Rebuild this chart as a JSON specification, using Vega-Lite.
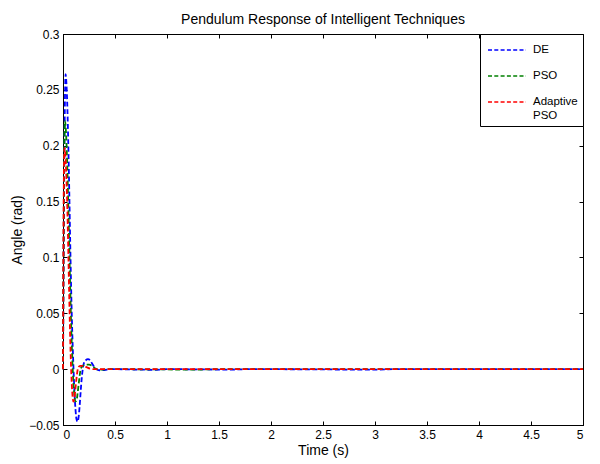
{
  "$schema": "https://vega.github.io/schema/vega-lite/v6.json",
  "autosize": {"type": "none"},
  "padding": {"left": 63, "top": 34, "right": 17, "bottom": 39},
  "width": 520,
  "height": 391,
  "background": "white",
  "title": {"text": "Pendulum Response of Intelligent Techniques", "font": "Liberation Sans", "fontSize": 14, "fontWeight": "normal", "color": "black", "offset": 1},
  "config": {
    "view": {"stroke": "black", "strokeWidth": 1},
    "axis": {"domainColor": "black", "tickColor": "black", "labelColor": "black", "titleColor": "black", "labelFont": "Liberation Sans", "titleFont": "Liberation Sans", "labelFontSize": 12, "titleFontSize": 14, "titleFontWeight": "normal", "grid": false, "tickSize": -4, "labelPadding": 8},
    "legend": {"labelFont": "Liberation Sans", "labelFontSize": 11.5, "labelColor": "black"}
  },
  "data": {"values": [
    {"t": 0, "angle": 0, "method": "DE"},
    {"t": 0.005, "angle": 0.08, "method": "DE"},
    {"t": 0.01, "angle": 0.15, "method": "DE"},
    {"t": 0.015, "angle": 0.21, "method": "DE"},
    {"t": 0.02, "angle": 0.25, "method": "DE"},
    {"t": 0.025, "angle": 0.264, "method": "DE"},
    {"t": 0.03, "angle": 0.26, "method": "DE"},
    {"t": 0.04, "angle": 0.24, "method": "DE"},
    {"t": 0.05, "angle": 0.205, "method": "DE"},
    {"t": 0.06, "angle": 0.16, "method": "DE"},
    {"t": 0.07, "angle": 0.11, "method": "DE"},
    {"t": 0.08, "angle": 0.065, "method": "DE"},
    {"t": 0.09, "angle": 0.03, "method": "DE"},
    {"t": 0.1, "angle": 0.003, "method": "DE"},
    {"t": 0.11, "angle": -0.02, "method": "DE"},
    {"t": 0.12, "angle": -0.036, "method": "DE"},
    {"t": 0.13, "angle": -0.045, "method": "DE"},
    {"t": 0.14, "angle": -0.047, "method": "DE"},
    {"t": 0.15, "angle": -0.043, "method": "DE"},
    {"t": 0.16, "angle": -0.033, "method": "DE"},
    {"t": 0.17, "angle": -0.02, "method": "DE"},
    {"t": 0.18, "angle": -0.008, "method": "DE"},
    {"t": 0.19, "angle": 0.0, "method": "DE"},
    {"t": 0.2, "angle": 0.005, "method": "DE"},
    {"t": 0.22, "angle": 0.008, "method": "DE"},
    {"t": 0.24, "angle": 0.009, "method": "DE"},
    {"t": 0.26, "angle": 0.008, "method": "DE"},
    {"t": 0.28, "angle": 0.005, "method": "DE"},
    {"t": 0.3, "angle": 0.002, "method": "DE"},
    {"t": 0.32, "angle": 0.0, "method": "DE"},
    {"t": 0.35, "angle": -0.001, "method": "DE"},
    {"t": 0.4, "angle": -0.0008, "method": "DE"},
    {"t": 0.45, "angle": 0.0, "method": "DE"},
    {"t": 0.9, "angle": -0.0006, "method": "DE"},
    {"t": 1.0, "angle": 0.0, "method": "DE"},
    {"t": 1.6, "angle": -0.0004, "method": "DE"},
    {"t": 1.8, "angle": 0.0, "method": "DE"},
    {"t": 3.0, "angle": -0.0004, "method": "DE"},
    {"t": 3.2, "angle": 0.0, "method": "DE"},
    {"t": 5.0, "angle": 0.0, "method": "DE"},
    {"t": 0, "angle": 0, "method": "PSO"},
    {"t": 0.005, "angle": 0.1, "method": "PSO"},
    {"t": 0.01, "angle": 0.18, "method": "PSO"},
    {"t": 0.015, "angle": 0.215, "method": "PSO"},
    {"t": 0.02, "angle": 0.222, "method": "PSO"},
    {"t": 0.025, "angle": 0.218, "method": "PSO"},
    {"t": 0.03, "angle": 0.21, "method": "PSO"},
    {"t": 0.04, "angle": 0.185, "method": "PSO"},
    {"t": 0.05, "angle": 0.15, "method": "PSO"},
    {"t": 0.06, "angle": 0.11, "method": "PSO"},
    {"t": 0.07, "angle": 0.07, "method": "PSO"},
    {"t": 0.08, "angle": 0.035, "method": "PSO"},
    {"t": 0.09, "angle": 0.008, "method": "PSO"},
    {"t": 0.1, "angle": -0.012, "method": "PSO"},
    {"t": 0.11, "angle": -0.024, "method": "PSO"},
    {"t": 0.12, "angle": -0.029, "method": "PSO"},
    {"t": 0.13, "angle": -0.028, "method": "PSO"},
    {"t": 0.14, "angle": -0.022, "method": "PSO"},
    {"t": 0.15, "angle": -0.014, "method": "PSO"},
    {"t": 0.16, "angle": -0.006, "method": "PSO"},
    {"t": 0.17, "angle": 0.0, "method": "PSO"},
    {"t": 0.19, "angle": 0.003, "method": "PSO"},
    {"t": 0.22, "angle": 0.004, "method": "PSO"},
    {"t": 0.25, "angle": 0.004, "method": "PSO"},
    {"t": 0.28, "angle": 0.003, "method": "PSO"},
    {"t": 0.32, "angle": 0.0, "method": "PSO"},
    {"t": 0.36, "angle": -0.0005, "method": "PSO"},
    {"t": 0.45, "angle": 0.0, "method": "PSO"},
    {"t": 1.3, "angle": -0.0004, "method": "PSO"},
    {"t": 1.5, "angle": 0.0, "method": "PSO"},
    {"t": 5.0, "angle": 0.0, "method": "PSO"},
    {"t": 0, "angle": 0, "method": "Adaptive PSO"},
    {"t": 0.005, "angle": 0.12, "method": "Adaptive PSO"},
    {"t": 0.01, "angle": 0.185, "method": "Adaptive PSO"},
    {"t": 0.015, "angle": 0.198, "method": "Adaptive PSO"},
    {"t": 0.02, "angle": 0.195, "method": "Adaptive PSO"},
    {"t": 0.03, "angle": 0.178, "method": "Adaptive PSO"},
    {"t": 0.04, "angle": 0.15, "method": "Adaptive PSO"},
    {"t": 0.05, "angle": 0.11, "method": "Adaptive PSO"},
    {"t": 0.06, "angle": 0.065, "method": "Adaptive PSO"},
    {"t": 0.07, "angle": 0.025, "method": "Adaptive PSO"},
    {"t": 0.08, "angle": -0.004, "method": "Adaptive PSO"},
    {"t": 0.09, "angle": -0.022, "method": "Adaptive PSO"},
    {"t": 0.1, "angle": -0.029, "method": "Adaptive PSO"},
    {"t": 0.11, "angle": -0.026, "method": "Adaptive PSO"},
    {"t": 0.12, "angle": -0.017, "method": "Adaptive PSO"},
    {"t": 0.13, "angle": -0.008, "method": "Adaptive PSO"},
    {"t": 0.14, "angle": -0.001, "method": "Adaptive PSO"},
    {"t": 0.15, "angle": 0.002, "method": "Adaptive PSO"},
    {"t": 0.17, "angle": 0.003, "method": "Adaptive PSO"},
    {"t": 0.19, "angle": 0.003, "method": "Adaptive PSO"},
    {"t": 0.22, "angle": 0.002, "method": "Adaptive PSO"},
    {"t": 0.26, "angle": 0.0005, "method": "Adaptive PSO"},
    {"t": 0.3, "angle": 0.0, "method": "Adaptive PSO"},
    {"t": 5.0, "angle": 0.0, "method": "Adaptive PSO"}
  ]},
  "layer": [
    {
      "mark": {"type": "line", "strokeDash": [5, 2.5], "strokeWidth": 1.8, "interpolate": "monotone"},
      "encoding": {
        "x": {"field": "t", "type": "quantitative", "scale": {"domain": [0, 5], "nice": false, "zero": false}, "axis": {"title": "Time (s)", "values": [0, 0.5, 1, 1.5, 2, 2.5, 3, 3.5, 4, 4.5, 5], "format": "~g", "orient": "bottom", "titlePadding": 3}},
        "y": {"field": "angle", "type": "quantitative", "scale": {"domain": [-0.05, 0.3], "nice": false, "zero": false}, "axis": {"title": "Angle (rad)", "values": [-0.05, 0, 0.05, 0.1, 0.15, 0.2, 0.25, 0.3], "format": "~g", "orient": "left", "titlePadding": 4}},
        "color": {"field": "method", "type": "nominal", "sort": ["DE", "PSO", "Adaptive PSO"], "scale": {"domain": ["DE", "PSO", "Adaptive PSO"], "range": ["#0000ff", "#008000", "#ff0000"]},
          "legend": {"title": null, "orient": "top-right", "offset": 0, "strokeColor": "black", "fillColor": "white", "padding": 5, "symbolType": "M-1.9,0H1.9", "symbolSize": 400, "symbolStrokeWidth": 1.5, "symbolDash": [4, 2.3], "symbolOffset": 11, "rowPadding": 9, "labelOffset": 15, "labelExpr": "datum.label == 'Adaptive PSO' ? ['Adaptive', 'PSO'] : datum.label"}},
        "order": {"field": "t", "type": "quantitative"}
      }
    },
    {
      "mark": {"type": "line", "opacity": 0},
      "encoding": {
        "x": {"field": "t", "type": "quantitative", "axis": {"orient": "top", "labels": false, "title": null, "values": [0, 0.5, 1, 1.5, 2, 2.5, 3, 3.5, 4, 4.5, 5]}},
        "y": {"field": "angle", "type": "quantitative", "axis": {"orient": "right", "labels": false, "title": null, "values": [-0.05, 0, 0.05, 0.1, 0.15, 0.2, 0.25, 0.3]}},
        "detail": {"field": "method"}
      }
    }
  ],
  "resolve": {"axis": {"x": "independent", "y": "independent"}}
}
